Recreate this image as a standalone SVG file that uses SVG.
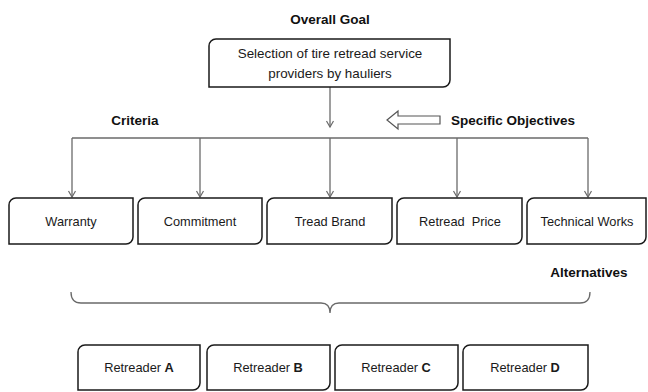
<svg xmlns="http://www.w3.org/2000/svg" width="648" height="392" viewBox="0 0 648 392">
<style>
.box{fill:#fff;stroke:#1a1a1a;stroke-width:1.5}
.t{font-family:"Liberation Sans",Arial,sans-serif;font-size:12.8px;fill:#1a1a1a;text-anchor:middle;white-space:pre}
.g{font-size:13.4px}
.h{font-family:"Liberation Sans",Arial,sans-serif;font-size:13.5px;font-weight:bold;fill:#111;text-anchor:middle}
.c{fill:none;stroke:#6a6a6a;stroke-width:1.3}
</style>
<defs>
<marker id="arr" markerUnits="userSpaceOnUse" markerWidth="10" markerHeight="10" refX="7" refY="4" orient="auto">
<path d="M1,0.5 L7,4 L1,7.5" fill="none" stroke="#6a6a6a" stroke-width="1.2"/>
</marker>
</defs>
<rect width="648" height="392" fill="#fff"/>
<text class="h" x="330" y="24">Overall Goal</text>
<text class="h" x="135" y="125">Criteria</text>
<text class="h" x="513" y="125">Specific Objectives</text>
<text class="h" x="589" y="277">Alternatives</text>
<path d="M387,120 L398,111 L398,116 L440,116 L440,124 L398,124 L398,129 Z" fill="#fff" stroke="#555" stroke-width="1.2"/>
<g id="connectors">
<path class="c" d="M330,87 V127" marker-end="url(#arr)"/>
<path class="c" d="M72,138 H588"/>
<path class="c" d="M72,138 V197" marker-end="url(#arr)"/>
<path class="c" d="M200,138 V197" marker-end="url(#arr)"/>
<path class="c" d="M330,138 V197" marker-end="url(#arr)"/>
<path class="c" d="M457,138 V197" marker-end="url(#arr)"/>
<path class="c" d="M588,138 V197" marker-end="url(#arr)"/>
<path class="c" d="M71,292 Q71,303 81,303 H321 Q330,303 330,313 Q330,303 339,303 H580 Q590,303 590,292"/>
</g>
<g id="goal">
<path class="box" d="M216,39 H450 V80 A7,7 0 0 1 443,87 H209 V46 A7,7 0 0 1 216,39 Z"/>
<text class="t g" x="330" y="58">Selection of tire retread service</text>
<text class="t g" x="330" y="78">providers by hauliers</text>
</g>
<g id="warranty">
<path class="box" d="M16,198 H133 V237 A7,7 0 0 1 126,244 H9 V205 A7,7 0 0 1 16,198 Z"/>
<text class="t" x="71" y="226">Warranty</text>
</g>
<g id="commitment">
<path class="box" d="M145,198 H262 V237 A7,7 0 0 1 255,244 H138 V205 A7,7 0 0 1 145,198 Z"/>
<text class="t" x="200" y="226">Commitment</text>
</g>
<g id="tread-brand">
<path class="box" d="M274,198 H392 V237 A7,7 0 0 1 385,244 H267 V205 A7,7 0 0 1 274,198 Z"/>
<text class="t" x="330" y="226">Tread Brand</text>
</g>
<g id="retread-price">
<path class="box" d="M404,198 H522 V237 A7,7 0 0 1 515,244 H397 V205 A7,7 0 0 1 404,198 Z"/>
<text class="t" x="460" y="226">Retread  Price</text>
</g>
<g id="technical-works">
<path class="box" d="M534,198 H646 V237 A7,7 0 0 1 639,244 H527 V205 A7,7 0 0 1 534,198 Z"/>
<text class="t" x="587" y="226">Technical Works</text>
</g>
<g id="retreader-a">
<path class="box" d="M85,345 H200 V383 A7,7 0 0 1 193,390 H78 V352 A7,7 0 0 1 85,345 Z"/>
<text class="t" x="139" y="372">Retreader <tspan font-weight="bold">A</tspan></text>
</g>
<g id="retreader-b">
<path class="box" d="M214,345 H330 V383 A7,7 0 0 1 323,390 H207 V352 A7,7 0 0 1 214,345 Z"/>
<text class="t" x="268" y="372">Retreader <tspan font-weight="bold">B</tspan></text>
</g>
<g id="retreader-c">
<path class="box" d="M342,345 H458 V383 A7,7 0 0 1 451,390 H335 V352 A7,7 0 0 1 342,345 Z"/>
<text class="t" x="396" y="372">Retreader <tspan font-weight="bold">C</tspan></text>
</g>
<g id="retreader-d">
<path class="box" d="M470,345 H588 V383 A7,7 0 0 1 581,390 H463 V352 A7,7 0 0 1 470,345 Z"/>
<text class="t" x="525" y="372">Retreader <tspan font-weight="bold">D</tspan></text>
</g>
</svg>
